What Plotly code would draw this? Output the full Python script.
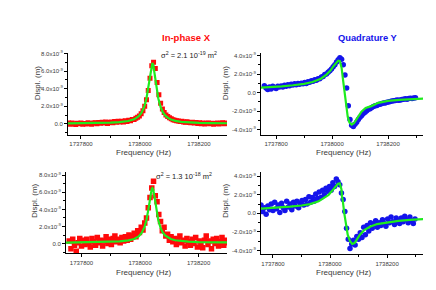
import plotly.graph_objects as go

W, H = 436, 290

# Sweep frequencies (Hz) of the measured points
freq = [1737758, 1737764, 1737770, 1737776, 1737782, 1737788, 1737794, 1737800, 1737806, 1737812,
        1737818, 1737824, 1737830, 1737836, 1737842, 1737848, 1737854, 1737860, 1737866, 1737872,
        1737878, 1737884, 1737890, 1737896, 1737902, 1737908, 1737914, 1737920, 1737926, 1737932,
        1737938, 1737944, 1737950, 1737956, 1737962, 1737968, 1737974, 1737980, 1737986, 1737992,
        1737998, 1738004, 1738010, 1738016, 1738022, 1738028, 1738034, 1738040, 1738046, 1738052,
        1738058, 1738064, 1738070, 1738076, 1738082, 1738088, 1738094, 1738100, 1738106, 1738112,
        1738118, 1738124, 1738130, 1738136, 1738142, 1738148, 1738154, 1738160, 1738166, 1738172,
        1738178, 1738184, 1738190, 1738196, 1738202, 1738208, 1738214, 1738220, 1738226, 1738232,
        1738238, 1738244, 1738250, 1738256, 1738262, 1738268, 1738274, 1738280, 1738286, 1738292,
        1738298]

# Displacements in units of 1e-9 m
x_top = [0.08, -0.05, 0.1, 0.02, -0.07, 0.06, 0.0, 0.09, -0.04, 0.05,
         -0.02, 0.11, 0.04, -0.06, 0.08, 0.12, 0.02, 0.15, 0.07, 0.18,
         0.1, 0.2, 0.05, 0.16, 0.22, 0.12, 0.25, 0.18, 0.3, 0.2,
         0.28, 0.22, 0.35, 0.27, 0.4, 0.36, 0.48, 0.5, 0.62, 0.75,
         0.9, 1.15, 1.5, 2.0, 2.75, 3.8, 5.2, 6.6, 7.0, 6.3,
         4.7, 3.3, 2.35, 1.7, 1.3, 1.0, 0.82, 0.68, 0.58, 0.47,
         0.42, 0.36, 0.33, 0.26, 0.3, 0.22, 0.18, 0.24, 0.15, 0.12,
         0.18, 0.08, 0.14, 0.05, 0.11, 0.02, 0.09, -0.03, 0.06, 0.1,
         0.0, 0.07, -0.05, 0.04, 0.1, -0.02, 0.06, 0.12, 0.01, 0.08,
         0.03]

y_top = [0.75, 0.5, 0.35, 0.6, 0.4, 0.7, 0.55, 0.45, 0.68, 0.6,
         0.72, 0.62, 0.8, 0.7, 0.85, 0.74, 0.9, 0.82, 0.95, 0.86,
         0.98, 0.9, 1.02, 0.95, 1.1, 1.0, 1.18, 1.12, 1.28, 1.22,
         1.38, 1.33, 1.5, 1.5, 1.68, 1.75, 1.95, 2.0, 2.2, 2.35,
         2.55, 2.8, 3.0, 3.3, 3.55, 3.75, 3.6, 3.0, 1.9, 0.5,
         -1.4, -2.9, -3.5, -3.65, -3.4, -3.2, -2.9, -2.65, -2.45, -2.25,
         -2.1, -1.95, -1.8, -1.72, -1.6, -1.5, -1.42, -1.38, -1.28, -1.25,
         -1.18, -1.12, -1.1, -1.02, -1.0, -0.95, -0.9, -0.88, -0.85, -0.8,
         -0.82, -0.78, -0.74, -0.72, -0.66, -0.7, -0.62, -0.6, -0.64, -0.58,
         -0.55]

x_bot = [0.3, -0.6, 0.5, -0.2, -0.9, 0.1, 0.6, -0.3, 0.4, -0.1,
         0.5, 0.0, -0.4, 0.6, 0.2, -0.2, 0.7, 0.1, 0.4, -0.3,
         0.3, 0.8, 0.0, 0.5, -0.1, 0.6, 0.9, 0.2, 0.5, 0.1,
         0.7, 0.3, 0.8, 0.4, 1.0, 0.5, 0.9, 1.2, 0.8, 1.5,
         1.3, 1.9, 1.6, 2.4, 3.0, 4.2, 5.4, 6.5, 7.3, 5.6,
         4.9, 3.4, 2.6, 1.5, 1.9, 0.9, 1.1, 0.4, 0.8, 0.2,
         0.6, -0.1, 0.5, 0.9, 0.1, 0.4, -0.3, 0.6, 0.2, -0.2,
         0.5, 0.0, 0.7, -0.4, 0.3, 0.1, -0.5, 0.4, 0.9, -0.1,
         0.3, -0.6, 0.5, 0.0, 0.6, -0.3, 0.2, 0.7, -0.2, 0.4,
         0.1]

y_bot = [0.9, 0.2, 0.6, -0.1, 0.8, 0.4, 1.0, 0.3, 1.2, 0.5,
         0.9, 0.1, 1.1, 0.6, 0.3, 1.3, 0.7, 1.0, 0.4, 1.2,
         0.8, 1.3, 0.6, 1.1, 1.4, 0.9, 1.5, 1.0, 1.8, 1.2,
         1.7, 1.3, 2.1, 1.6, 2.3, 1.7, 2.5, 2.0, 2.7, 2.4,
         2.9, 2.5, 3.3, 2.9, 3.7, 3.4, 3.1, 2.2, 1.5, 0.2,
         -1.6, -2.8, -3.8, -3.3, -2.9, -3.4, -2.5, -2.8, -2.1, -2.6,
         -1.5, -2.3, -1.3, -1.9, -1.0, -1.6, -1.2, -0.8, -1.5, -1.0,
         -1.3, -0.7, -1.1, -1.4, -0.6, -1.0, -0.4, -0.9, -1.2, -0.5,
         -0.8, -1.1, -0.5, -0.9, -0.3, -0.7, -1.0, -0.4, -0.8, -1.1,
         -0.6]

# Fitted curves
fit_freq = [1737745, 1737780, 1737820, 1737860, 1737900, 1737930, 1737960, 1737980, 1737995, 1738005,
            1738015, 1738022, 1738028, 1738034, 1738040, 1738042, 1738045, 1738050, 1738056, 1738062,
            1738070, 1738078, 1738086, 1738095, 1738105, 1738120, 1738140, 1738165, 1738200, 1738240,
            1738280, 1738330]
fit_x_top = [0.05, 0.06, 0.07, 0.09, 0.13, 0.19, 0.32, 0.51, 0.83, 1.23,
             1.99, 2.92, 4.14, 5.68, 6.84, 6.93, 6.72, 5.68, 4.14, 2.92,
             1.89, 1.29, 0.93, 0.67, 0.50, 0.34, 0.23, 0.16, 0.11, 0.08,
             0.065, 0.055]
fit_y_top = [0.55, 0.6, 0.68, 0.8, 0.95, 1.15, 1.5, 1.95, 2.4, 2.85,
             3.25, 3.45, 3.4, 2.7, 1.2, 0.65, -0.2, -1.5, -2.6, -3.2,
             -3.45, -3.3, -2.9, -2.45, -2.05, -1.65, -1.45, -1.1, -0.88, -0.78,
             -0.7, -0.63]
fit_x_bot = [0.12, 0.13, 0.14, 0.16, 0.19, 0.25, 0.37, 0.54, 0.84, 1.22,
             1.92, 2.79, 3.92, 5.35, 6.43, 6.5, 6.32, 5.35, 3.92, 2.79,
             1.83, 1.27, 0.94, 0.7, 0.54, 0.39, 0.29, 0.22, 0.18, 0.15,
             0.14, 0.13]
fit_y_bot = [0.5, 0.55, 0.62, 0.72, 0.85, 1.0, 1.3, 1.65, 2.0, 2.35,
             2.75, 3.0, 3.2, 3.25, 2.6, 1.8, 1.3, 0.0, -1.3, -2.3,
             -3.0, -3.3, -3.2, -2.75, -2.3, -1.8, -1.45, -1.15, -0.95, -0.8,
             -0.7, -0.62]

x_ticks = [1737800, 1738000, 1738200]
yx_ticks = [0.0, 2.0, 4.0, 6.0, 8.0]
yx_text = ["0.0", "2.0x10<sup>-9</sup>", "4.0x10<sup>-9</sup>", "6.0x10<sup>-9</sup>", "8.0x10<sup>-9</sup>"]
yy_ticks = [-4.0, -2.0, 0.0, 2.0, 4.0]
yy_text = ["-4.0x10<sup>-9</sup>", "-2.0x10<sup>-9</sup>", "0.0", "2.0x10<sup>-9</sup>", "4.0x10<sup>-9</sup>"]

RED = "rgb(255,10,10)"
BLUE = "rgb(20,20,235)"
GREEN = "rgb(30,235,30)"
FONT = "Liberation Sans, Arial, sans-serif"
TXT = "#3a3a3a"


def px(x):
    return x / W


def py(y):
    return 1 - y / H


fig = go.Figure()

panels = [
    ("x", "y", x_top, fit_x_top, RED, "square", 5),
    ("x2", "y2", y_top, fit_y_top, BLUE, "circle", 5.5),
    ("x3", "y3", x_bot, fit_x_bot, RED, "square", 5.5),
    ("x4", "y4", y_bot, fit_y_bot, BLUE, "circle", 5.5),
]
for xa, ya, d, f, col, sym, sz in panels:
    fig.add_trace(go.Scatter(x=freq, y=d, xaxis=xa, yaxis=ya, mode="markers",
                             marker=dict(color=col, symbol=sym, size=sz, line=dict(width=0)),
                             showlegend=False, hoverinfo="skip"))
    fig.add_trace(go.Scatter(x=fit_freq, y=f, xaxis=xa, yaxis=ya, mode="lines",
                             line=dict(color=GREEN, width=2.2),
                             showlegend=False, hoverinfo="skip"))

common_x = dict(showline=True, linecolor="black", linewidth=1, ticks="outside",
                ticklen=3, tickcolor="black", tickvals=x_ticks,
                ticktext=[str(v) for v in x_ticks], showgrid=False, zeroline=False,
                tickfont=dict(size=6, color=TXT, family=FONT),
                minor=dict(ticks="outside", ticklen=2, tickcolor="black", dtick=100,
                           tick0=1737800, showgrid=False))
common_y = dict(showline=True, linecolor="black", linewidth=1, ticks="outside",
                ticklen=3, tickcolor="black", showgrid=False, zeroline=False,
                tickfont=dict(size=6, color=TXT, family=FONT),
                minor=dict(ticks="outside", ticklen=2, tickcolor="black", dtick=1,
                           tick0=0, showgrid=False))

fig.update_layout(
    width=W, height=H, margin=dict(l=0, r=0, t=0, b=0),
    paper_bgcolor="white", plot_bgcolor="white",
    font=dict(family=FONT),
    xaxis=dict(common_x, domain=[px(60), px(219)], range=[1737756, 1738295], anchor="y"),
    yaxis=dict(common_y, domain=[py(125), py(42)], range=[-1.24, 8.11], anchor="x",
               tickvals=yx_ticks, ticktext=yx_text),
    xaxis2=dict(common_x, domain=[px(253), px(415)], range=[1737746, 1738325], anchor="y2"),
    yaxis2=dict(common_y, domain=[py(125), py(42)], range=[-4.53, 4.32], anchor="x2",
                tickvals=yy_ticks, ticktext=yy_text),
    xaxis3=dict(common_x, domain=[px(58), px(219)], range=[1737747, 1738297], anchor="y3"),
    yaxis3=dict(common_y, domain=[py(245), py(163)], range=[-1.16, 8.35], anchor="x3",
                tickvals=yx_ticks, ticktext=yx_text),
    xaxis4=dict(common_x, domain=[px(253), px(415)], range=[1737758, 1738326], anchor="y4"),
    yaxis4=dict(common_y, domain=[py(246), py(163)], range=[-4.43, 4.43], anchor="x4",
                tickvals=yy_ticks, ticktext=yy_text),
)

ann = []


def add_text(x, y, text, size, color=TXT, bold=False, angle=0):
    ann.append(dict(x=px(x), y=py(y), xref="paper", yref="paper",
                    text=("<b>%s</b>" % text) if bold else text,
                    showarrow=False, xanchor="center", yanchor="middle", textangle=angle,
                    font=dict(size=size, color=color, family=FONT)))


add_text(178, 27, "In-phase X", 9.5, RED, bold=True)
add_text(360, 27, "Quadrature Y", 9.3, BLUE, bold=True)
add_text(181, 44, "σ<sup>2</sup> = 2.1 10<sup>-19</sup> m<sup>2</sup>", 7.5, "#222")
add_text(176, 167, "σ<sup>2</sup> = 1.3 10<sup>-18</sup> m<sup>2</sup>", 7.5, "#222")
for xc, yc in [(135, 143), (335, 143), (135, 264), (335, 264)]:
    add_text(xc, yc, "Frequency (Hz)", 8)
for xc, yc in [(29, 73), (217, 73), (26, 192), (217, 192)]:
    add_text(xc, yc, "Displ. (m)", 8, angle=-90)

fig.update_layout(annotations=ann)
fig.write_html("out.html")
